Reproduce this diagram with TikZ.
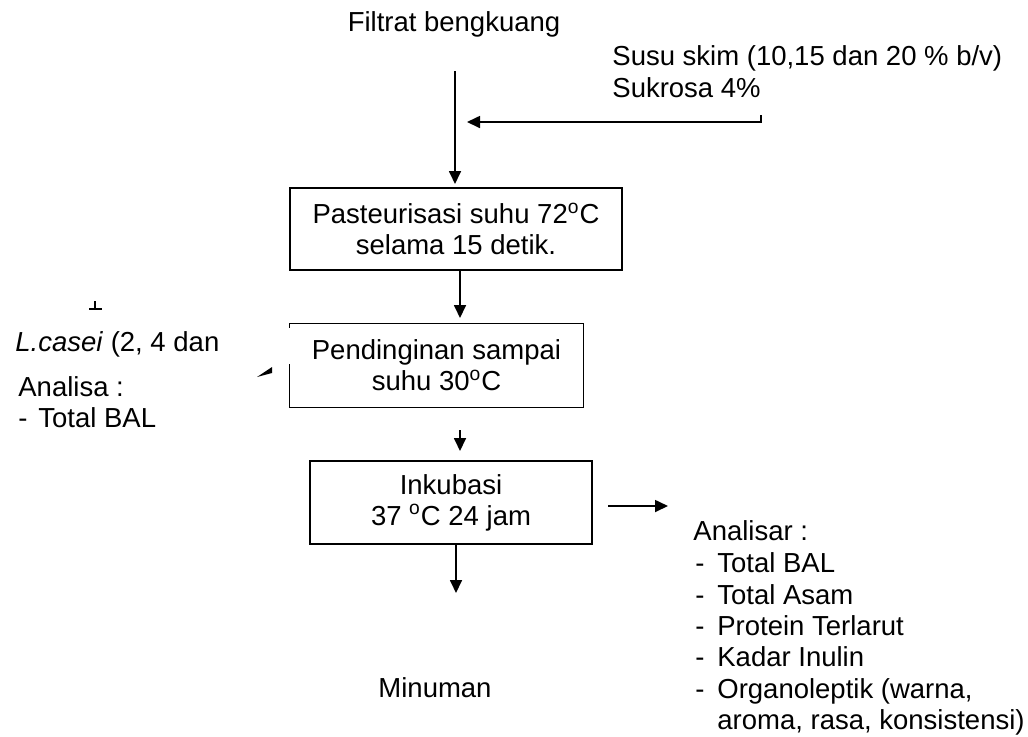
\documentclass[tikz,border=0pt]{standalone}
\usepackage{fontspec}
\setmainfont{Liberation Sans}
\usetikzlibrary{arrows.meta,calc}
\begin{document}
\begin{tikzpicture}[x=0.5pt,y=-0.5pt,
  every node/.style={font=\fontsize{13.75pt}{15.5pt}\selectfont, inner sep=0pt},
  txt/.style={anchor=base west},
  procbox/.style={draw, line width=0.85pt, align=center},
  hidbox/.style={align=center},
  conn/.style={line width=0.85pt, -{Triangle[length=6.5pt,width=6pt]}}]
\useasboundingbox (0,0) rectangle (1028,736);
% top texts
\node[anchor=base] (filtrat) at (454,31) {Filtrat bengkuang};
\node[txt] (susu) at (612,65) {Susu skim (10,15 dan 20 \% b/v)};
\node[txt] (sukrosa) at (612,97) {Sukrosa 4\%};
% boxes
\node[procbox, minimum width=166pt, minimum height=41pt] (p1) at (456,229) {Pasteurisasi suhu 72\textsuperscript{o}C\\selama 15 detik.};
\node[hidbox, minimum width=146.5pt, minimum height=41.5pt] (p2) at (436.5,365.5) {Pendinginan sampai\\suhu 30\textsuperscript{o}C};
\draw[line width=0.85pt] ([yshift=-2pt]p2.north west) -- (p2.north west) -- (p2.north east) -- (p2.south east) -- (p2.south west) -- ([yshift=21.5pt]p2.south west);
\node[procbox, minimum width=141pt, minimum height=41.5pt] (p3) at (451,502.5) {Inkubasi\\37 \textsuperscript{o}C 24 jam};
% connectors
\coordinate (a0) at (455,71);
\coordinate (a1) at (455,184);
\draw[conn] (a0) -- (a1);
\coordinate (s0) at (761,115);
\coordinate (s1) at (761,122);
\coordinate (s2) at (467,122);
\draw[conn] (s0) -- (s1) -- (s2);
\coordinate (b1) at (460,318);
\draw[conn] (p1.south -| b1) -- (b1);
\coordinate (c0) at (460,430);
\coordinate (c1) at (460,451);
\draw[conn] (c0) -- (c1);
\coordinate (d1) at (456,593);
\draw[conn] (p3.south -| d1) -- (d1);
\coordinate (e0) at (608,506);
\coordinate (e1) at (668,506);
\draw[conn] (e0) -- (e1);
% left fragments
\draw[line width=0.75pt] (95,301) -- (95,309);
\draw[line width=1.1pt] (89,309) -- (102,309);
\fill (257,377) -- (272,367) -- (272,373) -- cycle;
\node[txt] (lcasei) at (15,351) {\textit{L.casei} (2, 4 dan};
\node[txt] (analisa) at (18,396) {Analisa :};
\node[txt] (ltbal) at (18,427) {\makebox[10pt][l]{-}Total BAL};
% bottom
\node[anchor=base] (minuman) at (435,697) {Minuman};
% right list
\node[txt] (r0) at (693,540) {Analisar :};
\node[txt] (r1) at (695,572) {\makebox[11pt][l]{-}Total BAL};
\node[txt] (r2) at (695,604) {\makebox[11pt][l]{-}Total Asam};
\node[txt] (r3) at (695,635) {\makebox[11pt][l]{-}Protein Terlarut};
\node[txt] (r4) at (695,666) {\makebox[11pt][l]{-}Kadar Inulin};
\node[txt] (r5) at (695,698) {\makebox[11pt][l]{-}Organoleptik (warna,};
\node[txt] (r6) at (717,729) {aroma, rasa, konsistensi)};
\end{tikzpicture}
\end{document}
